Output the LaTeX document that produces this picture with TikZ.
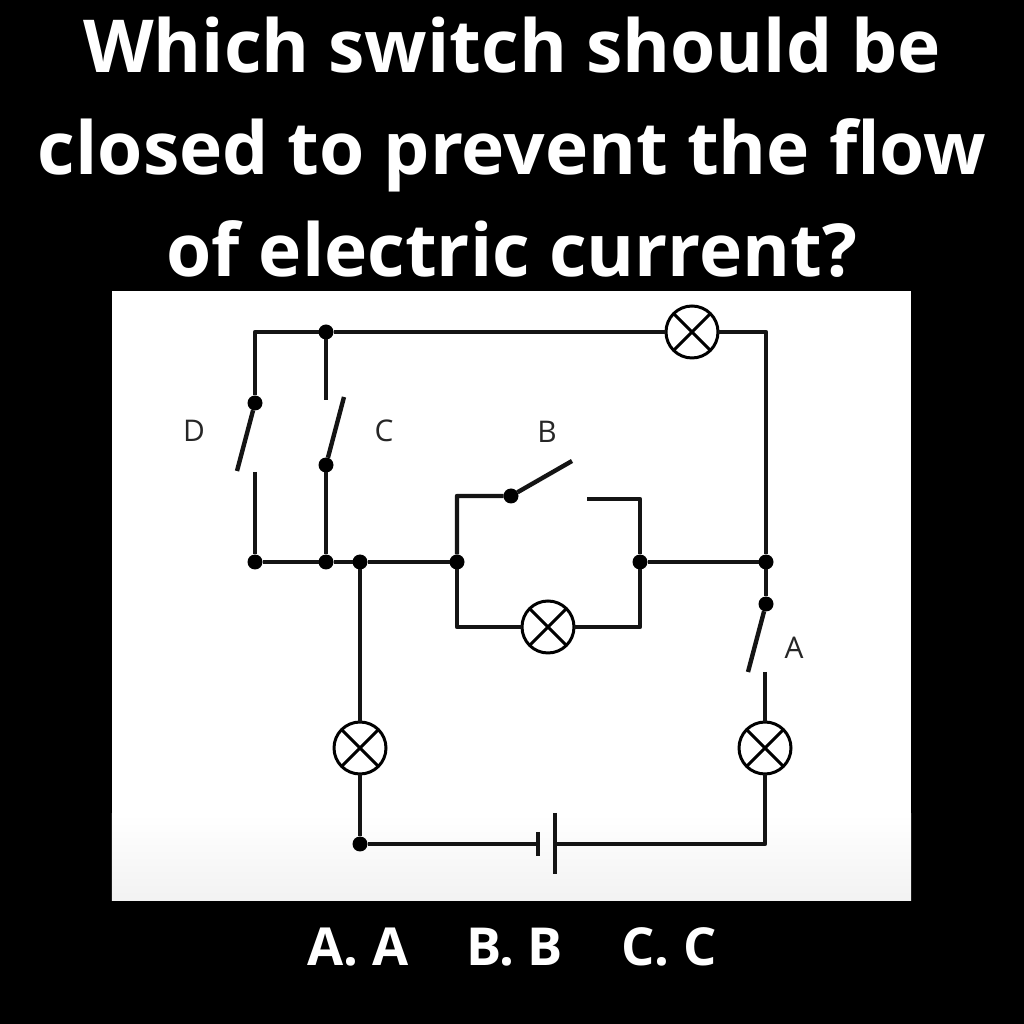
\documentclass[tikz,border=0pt]{standalone}
\usepackage{fontspec}
\setmainfont{Open Sans}
\usetikzlibrary{positioning,calc}
\tikzset{
  wire/.style={line width=1.25pt,line join=round,color=black!92},
  dot/.style={circle,fill=black,inner sep=0pt,outer sep=0pt,minimum size=.15cm},
  lamp/.style={circle,draw,line width=.85pt,fill=white,inner sep=0pt,outer sep=0pt,minimum size=.52cm,
    path picture={\draw[line width=.85pt] (path picture bounding box.north west)--(path picture bounding box.south east)
      (path picture bounding box.north east)--(path picture bounding box.south west);}},
  tag/.style={font=\fontsize{8.5}{10}\selectfont,text=black!85},
  title/.style={anchor=base,text=white,font=\fontsize{20.8}{24}\selectfont\bfseries},
}
\begin{document}
\begin{tikzpicture}
  \useasboundingbox (0,0) rectangle (10.24,10.24);
  \fill[black] (0,0) rectangle (10.24,10.24);
  \fill[white] (1.12,1.23) rectangle (9.11,7.33);
  \shade[bottom color=black!5,top color=white] (1.12,1.23) rectangle (9.11,2.1);
  % heading
  \node[title] (line1) at (5.12,9.51) {Which switch should be};
  \node[title] (line2) at (5.12,8.49) {closed to prevent the flow};
  \node[title] (line3) at (5.12,7.47) {of electric current?};
  \node[anchor=base,text=white,font=\fontsize{14.9}{18}\selectfont\bfseries] (answers) at (5.12,0.59) {A. A\hspace{1.11em}B. B\hspace{1.11em}C. C};
  % junctions
  \node[dot] (topc) at (3.26,6.92) {};
  \node[dot] (pivd) at (2.55,6.21) {};
  \node[dot] (pivc) at (3.26,5.59) {};
  \node[dot] (midd) at (2.55,4.62) {};
  \node[dot] (midc) at (3.26,4.62) {};
  \node[dot] (midl) at (3.60,4.62) {};
  \node[dot] (loopl) at (4.57,4.62) {};
  \node[dot] (loopr) at (6.40,4.62) {};
  \node[dot] (midr) at (7.66,4.62) {};
  \node[dot] (piva) at (7.66,4.20) {};
  \node[dot] (pivb) at (5.11,5.28) {};
  \node[dot] (botl) at (3.60,1.80) {};
  % lamps
  \node[lamp] (lamptop) at (6.92,6.92) {};
  \node[lamp] (lampmid) at (5.48,3.97) {};
  \node[lamp] (lampl) at (3.60,2.76) {};
  \node[lamp] (lampr) at (7.65,2.76) {};
  % corners and loose ends
  \coordinate (cornertl) at (2.55,6.92);
  \coordinate (cornertr) at (7.66,6.92);
  \coordinate (cornerbr) at (7.65,1.80);
  \coordinate (cornerb) at (4.57,5.28);
  \coordinate (cornerbb) at (6.40,5.25);
  \coordinate (cornerll) at (4.57,3.97);
  \coordinate (cornerlr) at (6.40,3.97);
  \coordinate (endd) at (2.37,5.53);
  \coordinate (stubd) at (2.55,5.52);
  \coordinate (endc) at (3.44,6.27);
  \coordinate (stubc) at (3.26,6.24);
  \coordinate (endb) at (5.72,5.63);
  \coordinate (stubb) at (5.87,5.25);
  \coordinate (enda) at (7.48,3.52);
  \coordinate (stuba) at (7.65,3.52);
  \coordinate (batshort) at (5.38,1.80);
  \coordinate (batlong) at (5.55,1.80);
  % labels
  \node[tag] (labd) at (1.94,5.93) {D};
  \node[tag] (labc) at (3.84,5.93) {C};
  \node[tag] (labb) at (5.47,5.92) {B};
  \node[tag] (laba) at (7.94,3.76) {A};
  % wires
  \draw[wire] (pivd)--(cornertl)--(topc)--(lamptop);
  \draw[wire] (lamptop)--(cornertr)--(midr);
  \draw[wire] (topc)--(stubc);
  \draw[wire] (pivd)--(endd);
  \draw[wire] (stubd)--(midd);
  \draw[wire] (pivc)--(endc);
  \draw[wire] (pivc)--(midc);
  \draw[wire] (midd)--(midc)--(midl)--(loopl);
  \draw[wire] (loopr)--(midr)--(piva);
  \draw[wire] (loopl)--(cornerb)--(pivb)--(endb);
  \draw[wire] (stubb)--(cornerbb)--(loopr);
  \draw[wire] (loopl)--(cornerll)--(lampmid);
  \draw[wire] (lampmid)--(cornerlr)--(loopr);
  \draw[wire] (piva)--(enda);
  \draw[wire] (stuba)--(lampr);
  \draw[wire] (lampr)--(cornerbr)--(batlong);
  \draw[wire] (midl)--(lampl);
  \draw[wire] (lampl)--(botl)--(batshort);
  \draw[wire] ($(batshort)+(0,.12)$)--($(batshort)+(0,-.12)$);
  \draw[wire] ($(batlong)+(0,.31)$)--($(batlong)+(0,-.3)$);
\end{tikzpicture}
\end{document}
